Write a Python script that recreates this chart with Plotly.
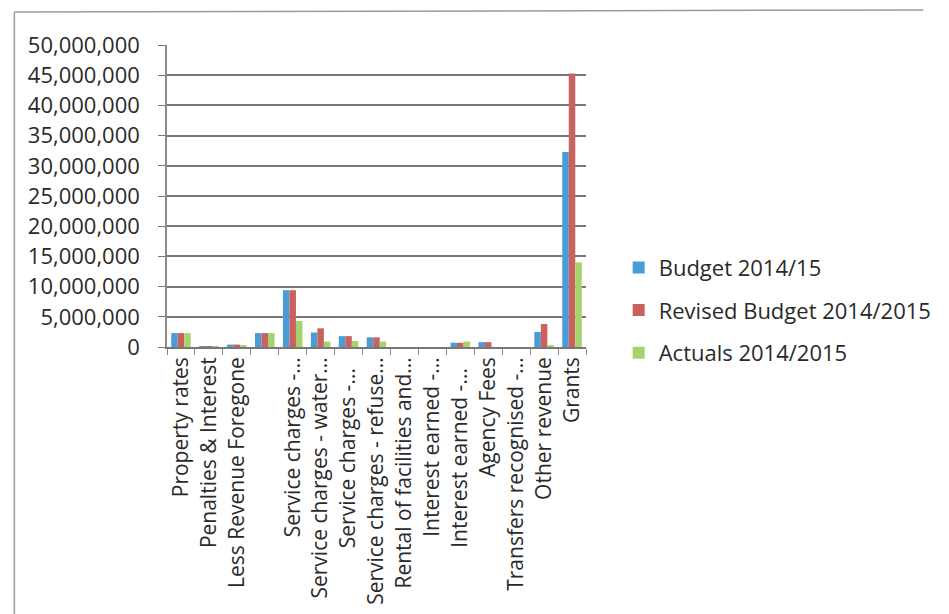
import plotly.graph_objects as go

categories = [
    "Property rates", "Penalties & Interest", "Less Revenue Foregone", " ",
    "Service charges -...", "Service charges - water...", "Service charges -...  ",
    "Service charges - refuse...", "Rental of facilities and...", "Interest earned -...",
    "Interest earned -...  ", "Agency Fees", "Transfers recognised -...",
    "Other revenue", "Grants",
]
budget = [2300000, 100000, 400000, 2300000, 9400000, 2400000, 1800000, 1600000,
          0, 0, 700000, 800000, 0, 2500000, 32300000]
revised = [2300000, 100000, 400000, 2300000, 9400000, 3100000, 1800000, 1600000,
           0, 0, 700000, 800000, 0, 3800000, 45300000]
actuals = [2300000, 50000, 300000, 2300000, 4300000, 900000, 1000000, 900000,
           0, 0, 900000, 0, 0, 300000, 14000000]

series_names = ["Budget 2014/15", "Revised Budget 2014/2015", "Actuals 2014/2015"]
colors = ["#4A9CD8", "#C9625F", "#A6D46C"]

font_family = "Open Sans"
fig = go.Figure()
for i, (name, vals) in enumerate(zip(series_names, [budget, revised, actuals])):
    fig.add_trace(go.Bar(x=categories, y=vals, name=name, marker_color=colors[i],
                         marker_line_width=0, legendgroup=str(i)))

fig.update_layout(
    width=949, height=614,
    margin=dict(l=167, r=351, t=45, b=267),
    paper_bgcolor="white", plot_bgcolor="white",
    barmode="group", bargap=0.3, bargroupgap=0,
    font=dict(family=font_family, size=22, color="#2a2a2a"),
    legend=dict(x=1.078, y=0.122, xanchor="left", yanchor="middle",
                font=dict(size=22, color="#2a2a2a"), tracegroupgap=11,
                bgcolor="rgba(0,0,0,0)"),
    showlegend=True,
)
fig.update_yaxes(range=[0, 50000000], dtick=5000000, tickformat=",",
                 showgrid=True, gridcolor="#777777", gridwidth=1.5,
                 ticks="outside", ticklen=7, tickcolor="#777777",
                 ticklabelstandoff=14,
                 showline=True, linecolor="#8a8a8a", linewidth=1.5,
                 zeroline=False, tickfont=dict(size=22, color="#2a2a2a"))
fig.update_xaxes(tickangle=-90, ticks="outside", tickson="boundaries", ticklen=6,
                 tickcolor="#8a8a8a", showline=True, linecolor="#777777", linewidth=1.5,
                 tickfont=dict(size=21, color="#2a2a2a"), automargin=False)

# chart frame (scan border)
fig.add_shape(type="line", xref="paper", yref="paper",
              x0=(10-167)/431, x1=(10-167)/431, y0=(347-12)/302, y1=(347-614)/302,
              line=dict(color="#9a9a9a", width=1.5))
fig.add_shape(type="line", xref="paper", yref="paper",
              x0=(10-167)/431, x1=(945-167)/431, y0=(347-12)/302, y1=(347-10)/302,
              line=dict(color="#9a9a9a", width=1.5))

fig.write_html("out.html")
